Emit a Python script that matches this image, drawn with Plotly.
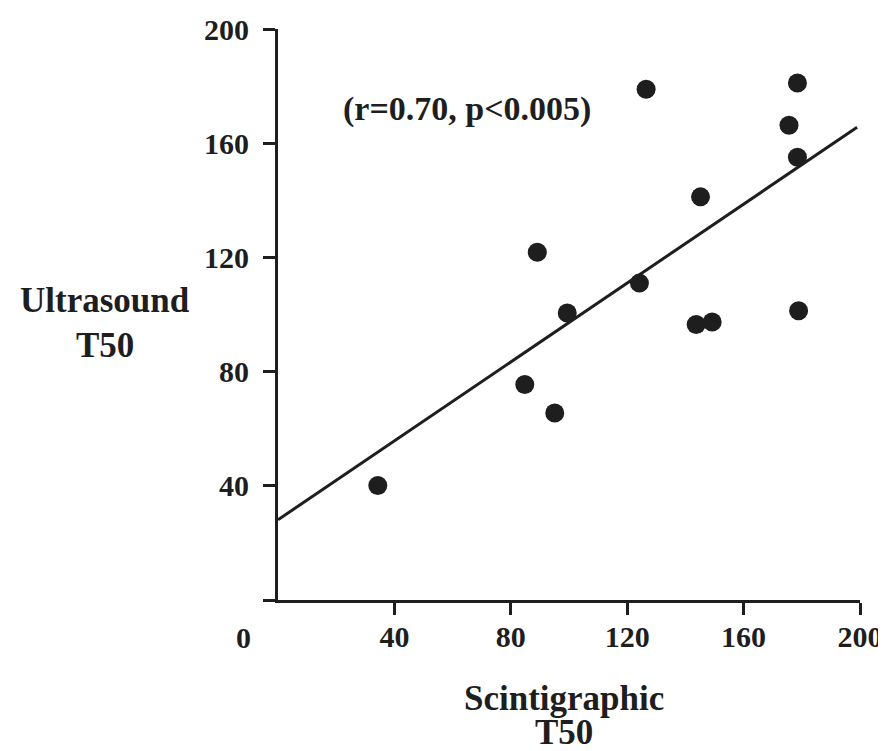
import plotly.graph_objects as go

# Data
scint_t50 = [34.3, 84.8, 95.1, 89.1, 99.4, 124.2, 126.5, 145.2, 143.7, 149.2, 175.6, 178.5, 178.5, 178.9]
ultra_t50 = [40.1, 75.5, 65.5, 121.8, 100.5, 111.0, 178.9, 141.2, 96.5, 97.4, 166.3, 181.1, 155.1, 101.3]

fit_x = [0, 199]
fit_y = [28.1, 165.6]

x_ticks = [40, 80, 120, 160, 200]
y_ticks = [0, 40, 80, 120, 160, 200]
y_tick_text = ["", "40", "80", "120", "160", "200"]

stat_text = "(r=0.70, p<0.005)"
x_title_lines = ["Scintigraphic", "T50"]
y_title_lines = ["Ultrasound", "T50"]

FONT = "Liberation Serif, Times New Roman, serif"
INK = "#1e1e1e"

fig = go.Figure()
fig.add_trace(go.Scatter(x=fit_x, y=fit_y, mode="lines",
                         line=dict(color=INK, width=3), showlegend=False, hoverinfo="skip"))
fig.add_trace(go.Scatter(x=scint_t50, y=ultra_t50, mode="markers",
                         marker=dict(color=INK, size=19, line=dict(width=0)), showlegend=False))

title_font = dict(family=FONT, size=35, color=INK, weight="bold")

fig.update_layout(
    width=886, height=751,
    margin=dict(l=270, r=34, t=21, b=159),
    paper_bgcolor="white", plot_bgcolor="white",
    font=dict(family=FONT, color=INK),
    xaxis=dict(range=[0, 200], tickvals=x_ticks, ticks="outside", ticklen=12, tickwidth=3,
               tickcolor=INK, showline=True, linewidth=3, linecolor=INK, showgrid=False,
               zeroline=False, automargin=False,
               tickfont=dict(family=FONT, size=30, color=INK, weight="bold"),
               ticklabelstandoff=-4),
    yaxis=dict(range=[0, 200], tickvals=y_ticks, ticktext=y_tick_text, ticks="outside", ticklen=12,
               tickwidth=3, tickcolor=INK, showline=True, linewidth=3, linecolor=INK,
               showgrid=False, zeroline=False, automargin=False,
               tickfont=dict(family=FONT, size=30, color=INK, weight="bold"),
               ticklabelstandoff=8),
    annotations=[
        dict(text=stat_text, x=0.325, y=0.86, xref="paper", yref="paper", showarrow=False,
             xanchor="center", yanchor="middle",
             font=dict(family=FONT, size=34, color=INK, weight="bold")),
        dict(text=y_title_lines[0], x=-0.298, y=0.525, xref="paper", yref="paper",
             showarrow=False, xanchor="center", yanchor="middle", font=title_font),
        dict(text=y_title_lines[1], x=-0.298, y=0.445, xref="paper", yref="paper",
             showarrow=False, xanchor="center", yanchor="middle", font=title_font),
        dict(text=x_title_lines[0], x=0.492, y=-0.172, xref="paper", yref="paper",
             showarrow=False, xanchor="center", yanchor="middle", font=title_font),
        dict(text=x_title_lines[1], x=0.492, y=-0.232, xref="paper", yref="paper",
             showarrow=False, xanchor="center", yanchor="middle", font=title_font),
        dict(text="0", x=0, y=0, xref="x", yref="y", showarrow=False, xshift=-35, yshift=-37,
             xanchor="center", yanchor="middle",
             font=dict(family=FONT, size=30, color=INK, weight="bold")),
    ],
)

fig.write_html("out.html")
